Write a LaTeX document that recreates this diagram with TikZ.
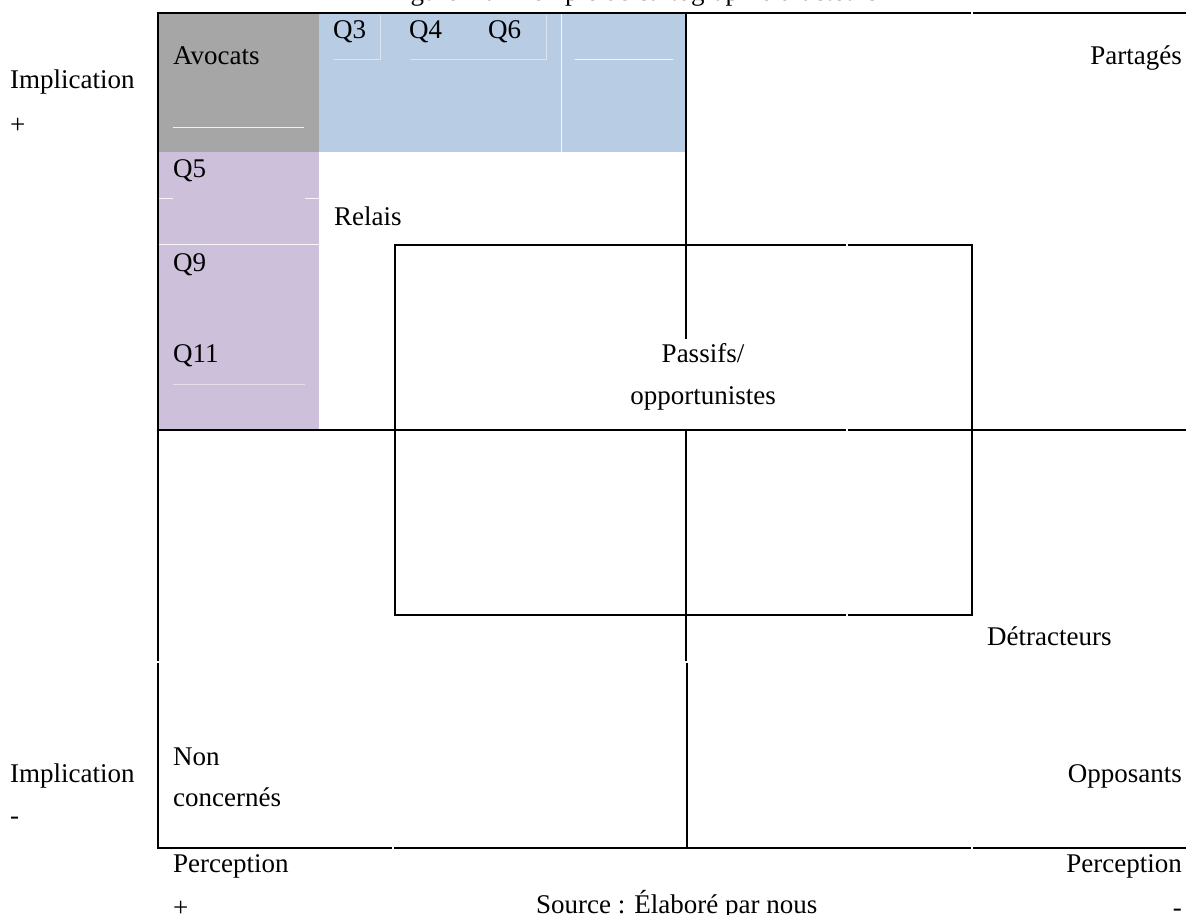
\documentclass[tikz,border=0pt]{standalone}
\usepackage{fontspec}
\setmainfont{Liberation Serif}
\definecolor{gris}{RGB}{166,166,166}
\definecolor{bleu}{RGB}{184,204,228}
\definecolor{mauve}{RGB}{204,192,218}
\begin{document}
\begin{tikzpicture}[x=1pt,y=-1pt,
  lbl/.style={inner sep=0pt,anchor=base west,font=\fontsize{27}{32}\selectfont},
  lblr/.style={lbl,anchor=base east},
  lblc/.style={lbl,anchor=base},
  frame/.style={line width=1.6pt,black,line cap=rect},
  wline/.style={white,line width=1pt,opacity=0.85},
  fline/.style={white,line width=1pt,opacity=0.5}]
\useasboundingbox (0,0) rectangle (1186,915);
% coloured cells
\fill[gris] (158,13) rectangle (319,152);
\fill[bleu] (319,13) rectangle (686,152);
\fill[mauve] (158,152) rectangle (319,430);
% faint white table borders inside the coloured cells
\draw[wline] (561,13) -- (561,152);
\draw[fline] (334,60) -- (380,60) -- (380,15);
\draw[fline] (410,60) -- (546,60) -- (546,15);
\draw[wline] (575,60) -- (673,60);
\draw[wline] (173,128) -- (304,128);
\draw[wline] (158,198) -- (173,198);
\draw[wline] (305,198) -- (319,198);
\draw[wline] (158,244) -- (319,244);
\draw[fline] (173,384) -- (305,384);
% black frame and grid
\draw[frame] (158,13) -- (970,13);
\draw[frame] (974,13) -- (1186,13);
\draw[frame] (158,13) -- (158,660);
\draw[frame] (158,664) -- (158,848);
\draw[frame] (686,13) -- (686,338);
\draw[frame] (686,430) -- (686,660);
\draw[frame] (687,664) -- (687,848);
\draw[frame] (158,430) -- (845,430);
\draw[frame] (849,430) -- (1186,430);
\draw[frame] (395,245) -- (845,245);
\draw[frame] (849,245) -- (972,245) -- (972,615) -- (849,615);
\draw[frame] (845,615) -- (395,615) -- (395,245);
\draw[frame] (158,848) -- (391,848);
\draw[frame] (395,848) -- (970,848);
\draw[frame] (974,848) -- (1186,848);
% texts
\node[lbl] (titre) at (388,1) {Figure 4 : Exemple de cartographie d'acteurs};
\node[lbl] (avocats) at (173,65) {Avocats};
\node[lbl] (q3) at (333,39) {Q3};
\node[lbl] (q4) at (409,39) {Q4};
\node[lbl] (q6) at (488,39) {Q6};
\node[lblr] (partages) at (1182,65) {Partagés};
\node[lbl] (implh) at (10,89) {Implication};
\node[lbl] (plush) at (10,134) {+};
\node[lbl] (q5) at (173,177) {Q5};
\node[lbl] (relais) at (334,225) {Relais};
\node[lbl] (q9) at (173,271) {Q9};
\node[lbl] (q11) at (173,362) {Q11};
\node[lblc] (passifs) at (703,362) {Passifs/};
\node[lblc] (opport) at (703,404) {opportunistes};
\node[lbl] (detract) at (987,645) {Détracteurs};
\node[lbl] (non) at (173,765) {Non};
\node[lbl] (concernes) at (173,806) {concernés};
\node[lbl] (implb) at (10,782) {Implication};
\node[lbl] (moinsg) at (10,824) {-};
\node[lblr] (opposants) at (1182,782) {Opposants};
\node[lbl] (percg) at (173,872) {Perception};
\node[lbl] (plusb) at (173,916) {+};
\node[lbl] (source) at (536,913) {Source : Élaboré par nous};
\node[lblr] (percd) at (1182,872) {Perception};
\node[lblr] (moinsd) at (1182,916) {-};
\end{tikzpicture}
\end{document}
